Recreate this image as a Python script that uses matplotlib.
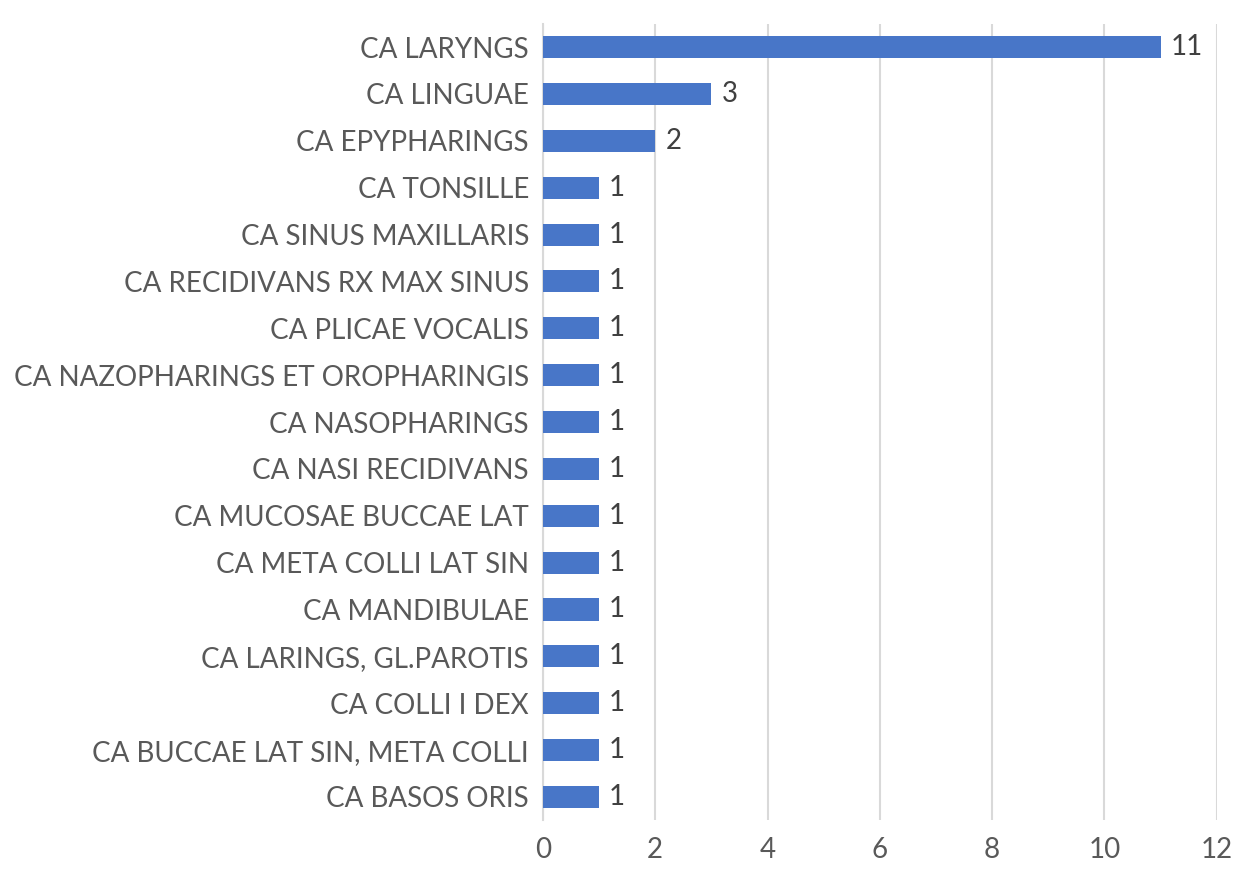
#! /usr/bin/env python3

import matplotlib
matplotlib.use("Agg")
import matplotlib.pyplot as plt

# categories, top to bottom
diagnoses = [
    "CA LARYNGS",
    "CA LINGUAE",
    "CA EPYPHARINGS",
    "CA TONSILLE",
    "CA SINUS MAXILLARIS",
    "CA RECIDIVANS RX MAX SINUS",
    "CA PLICAE VOCALIS",
    "CA NAZOPHARINGS ET OROPHARINGIS",
    "CA NASOPHARINGS",
    "CA NASI RECIDIVANS",
    "CA MUCOSAE BUCCAE LAT",
    "CA META COLLI LAT SIN",
    "CA MANDIBULAE",
    "CA LARINGS, GL.PAROTIS",
    "CA COLLI I DEX",
    "CA BUCCAE LAT SIN, META COLLI",
    "CA BASOS ORIS",
]
counts = [11, 3, 2, 1, 1, 1, 1, 1, 1, 1, 1, 1, 1, 1, 1, 1, 1]
x_ticks = [0, 2, 4, 6, 8, 10, 12]

plt.rcParams["font.family"] = ["Lato", "DejaVu Sans"]

fig = plt.figure(figsize=(12.48, 8.74), dpi=100)
ax = fig.add_axes([0.435, 0.0613, 0.54, 0.9117])

pos = list(range(len(diagnoses)))
bars = ax.barh(pos, counts, height=0.47, color="#4876C8", zorder=3)

for b, v in zip(bars, counts):
    ax.text(b.get_width() + 0.18, b.get_y() + b.get_height() / 2, str(v),
            va="center", ha="left", fontsize=20, color="#404040")

ax.set_yticks(pos)
ax.set_yticklabels(diagnoses, fontsize=20, color="#595959")
ax.set_ylim(len(diagnoses) - 0.5, -0.5)

ax.set_xlim(0, 12)
ax.set_xticks(x_ticks)
ax.set_xticklabels([str(t) for t in x_ticks], fontsize=20, color="#595959")

ax.grid(axis="x", color="#D9D9D9", linewidth=1.5, zorder=0)
for s in ["top", "right", "bottom"]:
    ax.spines[s].set_visible(False)
ax.spines["left"].set_color("#D9D9D9")
ax.spines["left"].set_linewidth(1.5)
ax.tick_params(axis="both", length=0)
ax.tick_params(axis="y", pad=10)
ax.tick_params(axis="x", pad=12)

fig.savefig("out.png", dpi=100)
